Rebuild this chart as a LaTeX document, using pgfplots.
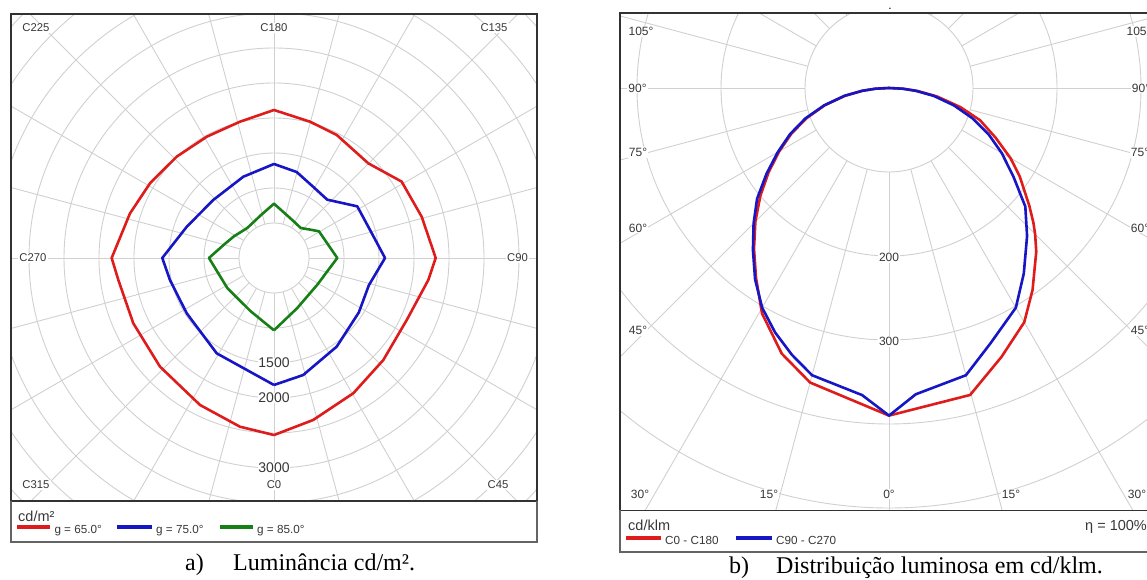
\documentclass[border=0pt]{standalone}
\usepackage{fontspec}
\setmainfont{Liberation Serif}
\newfontfamily\arial{Liberation Sans}
\usepackage{pgfplots}
\pgfplotsset{compat=1.18}
\definecolor{cRed}{RGB}{222,28,28}
\definecolor{cBlue}{RGB}{22,22,196}
\definecolor{cGreen}{RGB}{22,128,22}
\definecolor{gridc}{RGB}{208,208,208}
\definecolor{framec}{RGB}{50,50,50}
\definecolor{legc}{RGB}{100,100,100}
\definecolor{labc}{RGB}{55,55,55}
\begin{document}
\begin{tikzpicture}[x=1pt,y=1pt,
  lab/.style={font=\arial\fontsize{11.3}{13}\selectfont, text=labc, fill=white, inner sep=1pt},
  rlab/.style={font=\arial\fontsize{14}{16}\selectfont, text=labc, fill=white, inner sep=0.5pt},
  alab/.style={font=\arial\fontsize{12}{14}\selectfont, text=labc, fill=white, inner sep=1pt},
  leg/.style={font=\arial\fontsize{11.7}{14}\selectfont, text=labc, anchor=base west, inner sep=0pt},
  legt/.style={font=\arial\fontsize{14.5}{16}\selectfont, text=labc, anchor=base west, inner sep=0pt},
  capt/.style={font=\fontsize{24}{28}\selectfont, anchor=base west, inner sep=0pt}]
\useasboundingbox (0,0) rectangle (1147,580);

% ================= LEFT PANEL: grid =================
\begin{scope}
\clip (11,79) rectangle (537,566);
\begin{scope}[shift={(274pt,322pt)}, draw=gridc, line width=0.9pt]
\foreach \r in {35,70,...,350} \draw (0,0) circle[radius=\r pt];
\foreach \a in {0,15,...,345} \draw (\a:35pt) -- (\a:420pt);
\end{scope}
\end{scope}
% labels
\node[lab] at (36,552.3) {C225};
\node[lab] at (274,552.3) {C180};
\node[lab] at (494,552.3) {C135};
\node[lab] at (33,322) {C270};
\node[lab] at (517.5,322) {C90};
\node[lab] at (36,95) {C315};
\node[lab] at (274,95) {C0};
\node[lab] at (498,95) {C45};
\node[rlab] at (274,217) {1500};
\node[rlab] at (274,182) {2000};
\node[rlab] at (274,112) {3000};

% ================= LEFT PANEL: curves =================
\begin{axis}[at={(11pt,79pt)}, anchor=south west, x=0.07pt, y=0.07pt,
  xmin=-3757.14, xmax=3757.14, ymin=-3471.43, ymax=3485.71,
  xtick=\empty, ytick=\empty,
  axis line style={draw=framec, line width=1.4pt}, clip=true]
% g = 65 deg (angle = C - 90, radius in cd/m2)
\addplot[cRed, line width=2.6pt, line join=round, data cs=polar] coordinates {
(-90,2529) (-76.4,2381) (-59.6,2240) (-43,2136) (-25,2093) (-8.1,2227) (0,2310)
(15.6,2191) (30.9,2125) (45.1,1909) (63,1973) (75.2,2014) (90,2114)
(104,2007) (119,1981) (133.8,2007) (148.9,2068) (162.8,2154) (180,2319)
(188,2246) (204.9,2216) (223.6,2250) (243.3,2351) (258.6,2459) (270,2529)};
% g = 75 deg
\addplot[cBlue, line width=2.6pt, line join=round, data cs=polar] coordinates {
(-90,1814) (-76,1723) (-54.7,1551) (-32.7,1440) (-16,1410) (0,1586)
(16.3,1429) (31.8,1400) (47.6,1128) (61,1160) (75.2,1270) (90,1343)
(110.7,1241) (136.3,1200) (160.3,1324) (180,1596)
(192,1519) (212.4,1476) (239,1589) (270,1814)};
% g = 85 deg
\addplot[cGreen, line width=2.6pt, line join=round, data cs=polar] coordinates {
(-90,1033) (-65,788) (-31.7,727) (-14,785) (0,904)
(30.7,747) (37.6,662) (48.3,574) (60,590) (70,623) (90,776)
(107,640) (131.7,574) (151.5,650) (165,739) (180,929)
(212.7,793) (230,778) (246.4,831) (270,1033)};
\end{axis}

% legend left
\draw[legc, line width=1.2pt] (11,79) -- (11,38) -- (537,38) -- (537,79);
\node[legt] at (18,58.3) {cd/m²};
\draw[cRed, line width=4pt] (17,52.7) -- (50,52.7);
\node[leg] at (54.3,46.5) {g = 65.0°};
\draw[cBlue, line width=4pt] (117,52.7) -- (152,52.7);
\node[leg] at (156,46.5) {g = 75.0°};
\draw[cGreen, line width=4pt] (220,52.7) -- (253,52.7);
\node[leg] at (257,46.5) {g = 85.0°};
% caption a
\node[capt] at (185,9) {a)};
\node[capt] at (233,9) {Luminância cd/m².};

% ================= RIGHT PANEL: grid =================
\begin{scope}
\clip (620,69.5) rectangle (1158,567);
\begin{scope}[shift={(889pt,492pt)}, draw=gridc, line width=0.9pt]
\foreach \r in {84,168,...,672} \draw (0,0) circle[radius=\r pt];
\foreach \a in {0,15,...,345} \draw (\a:84pt) -- (\a:800pt);
\end{scope}
\end{scope}
\node[alab] at (641,548.3) {105°};
\node[alab] at (637.5,492) {90°};
\node[alab] at (638,427.3) {75°};
\node[alab] at (638,352) {60°};
\node[alab] at (638,249.3) {45°};
\node[alab] at (640,86) {30°};
\node[alab] at (769,86) {15°};
\node[alab] at (889,86) {0°};
\node[alab] at (1011,86) {15°};
\node[alab] at (1137,86) {30°};
\node[alab] at (1140,249.3) {45°};
\node[alab] at (1140,352) {60°};
\node[alab] at (1140,427.3) {75°};
\node[alab] at (1141,492) {90°};
\node[alab] at (1139,548.3) {105°};
\node[alab] at (889,322.3) {200};
\node[alab] at (889,238.3) {300};
\node[font=\arial\fontsize{12}{14}\selectfont, inner sep=0pt] at (890,571) {.};

% ================= RIGHT PANEL: curves =================
\begin{axis}[at={(620pt,69.5pt)}, anchor=south west, x=0.84pt, y=0.84pt,
  xmin=-320.24, xmax=320.24, ymin=-502.98, ymax=89.29,
  xtick=\empty, ytick=\empty,
  axis line style={draw=framec, line width=1.4pt}, clip=true]
% C0 - C180 (angle in degrees, cd/klm)
\addplot[cRed, line width=2.6pt, line join=round, data cs=polar] coordinates {
(0,0) (-3,17) (-6,34) (-10,58) (-15,88) (-19.5,115) (-25,140) (-30,167)
(-34.1,188) (-40,218) (-43,235) (-45,246) (-48,262) (-54.6,295) (-60,322)
(-67.3,347) (-75.2,378) (-90,390)
(-105,363) (-112,341) (-119.4,308) (-125,276) (-130,250) (-135,225) (-140,200)
(-145,175) (-150,151) (-155,128) (-160,104) (-165,79) (-170,53) (-174,32)
(-177,16) (-180,0)};
% C90 - C270
\addplot[cBlue, line width=2.6pt, line join=round, data cs=polar] coordinates {
(0,0) (-3,16) (-6,32) (-10,54) (-15,80) (-20,106) (-25,131) (-30,155)
(-35.5,182) (-41,215) (-47,241) (-54,273) (-60,302) (-68.3,327) (-75,354)
(-85,366) (-90,390)
(-95,367) (-105,354) (-110,338) (-115,321) (-120,302) (-125,278) (-130,252)
(-135,228) (-140,205) (-145,178) (-150,153) (-155,130) (-160,106) (-165,80)
(-170,54) (-174,32) (-177,16) (-180,0)};
\end{axis}

% legend right
\draw[legc, line width=1.2pt] (620,69.5) -- (620,28) -- (1158,28) -- (1158,69.5);
\node[legt] at (628,49) {cd/klm};
\draw[cRed, line width=4pt] (626,41.7) -- (661,41.7);
\node[leg] at (665,35) {C0 - C180};
\draw[cBlue, line width=4pt] (736,41.7) -- (772,41.7);
\node[leg] at (776,35) {C90 - C270};
\node[legt] at (1085,49) {η = 100\%};
% caption b
\node[capt] at (729,6) {b)};
\node[capt] at (776,6) {Distribuição luminosa em cd/klm.};
\end{tikzpicture}
\end{document}
